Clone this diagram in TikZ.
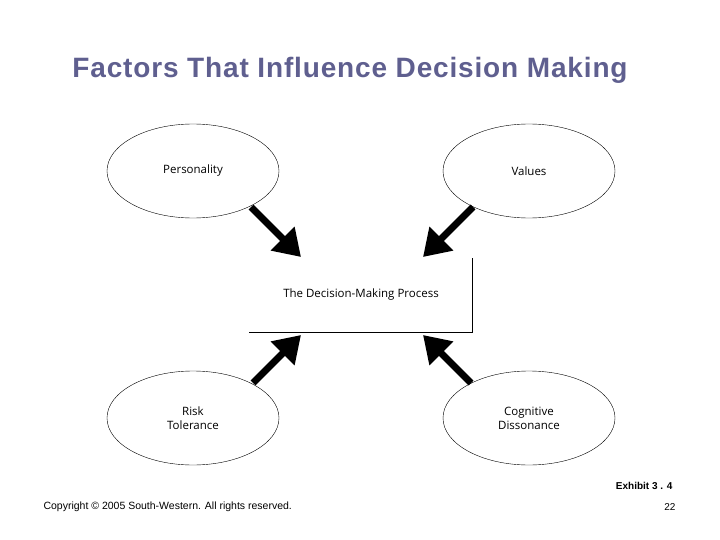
\documentclass[tikz,border=0pt]{standalone}
\usepackage{fontspec}
\setmainfont{Liberation Sans}
\newfontfamily\diagfont{Open Sans}
\usetikzlibrary{shapes.geometric,arrows.meta}
\definecolor{titlecol}{HTML}{5F5F8F}
\begin{document}
\begin{tikzpicture}[x=1pt,y=-1pt,
  factor/.style={ellipse,draw,thin,minimum width=172pt,minimum height=94pt,font=\diagfont\fontsize{11.5}{14}\selectfont,align=center},
  bigarrow/.style={line width=7pt,-{Triangle[length=26pt,width=32pt]}}]
\useasboundingbox (0,0) rectangle (720,540);
\node[font=\bfseries\fontsize{28}{34}\selectfont\addfontfeatures{LetterSpace=3},text=titlecol] (title) at (350,70) {Factors That Influence Decision Making};
\node[factor] (pers) at (193,171) {Personality};
\node[factor] (vals) at (529,171) {Values};
\node[factor] (risk) at (193,418) {Risk\\Tolerance};
\node[factor] (cog) at (529,418) {Cognitive\\Dissonance};
\node[font=\diagfont\fontsize{11.5}{14}\selectfont] (proc) at (361,295) {The Decision-Making Process};
\draw[thin] (472,258) -- (472,332) -- (249,332);
\coordinate (s1) at (251,207);
\coordinate (s2) at (473,207);
\coordinate (s3) at (253,383);
\coordinate (s4) at (471,383);
\coordinate (a1) at (301,257);
\coordinate (a2) at (423,257);
\coordinate (a3) at (301,335);
\coordinate (a4) at (423,335);
\draw[bigarrow] (s1) -- (a1);
\draw[bigarrow] (s2) -- (a2);
\draw[bigarrow] (s3) -- (a3);
\draw[bigarrow] (s4) -- (a4);
\node[font=\bfseries\fontsize{10}{12}\selectfont,anchor=east] (exh) at (676,486) {Exhibit 3 . 4};
\node[font=\fontsize{10.5}{12}\selectfont,anchor=west] (copy) at (40,507) {Copyright © 2005 South-Western. All rights reserved.};
\node[font=\fontsize{10}{12}\selectfont,anchor=east] (pg) at (679,507) {22};
\end{tikzpicture}
\end{document}
